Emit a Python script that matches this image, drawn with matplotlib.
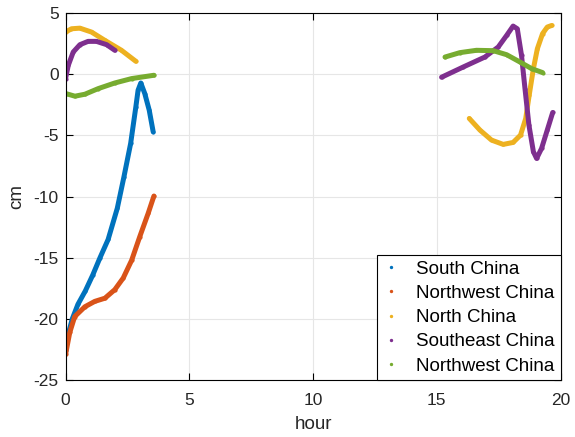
import matplotlib.pyplot as plt

plt.rcParams['font.family'] = ['Liberation Sans', 'DejaVu Sans']
plt.rcParams['axes.unicode_minus'] = False

# values (hour, cm)
south_x = [0.0, 0.1, 0.27, 0.5, 0.8, 1.1, 1.39, 1.72, 2.09, 2.36, 2.63, 2.84, 2.93, 3.04, 3.2, 3.38, 3.54]
south_y = [-22.5, -21.3, -20.0, -18.8, -17.7, -16.4, -15.0, -13.5, -10.95, -8.37, -5.65, -2.66, -1.3, -0.71, -1.57, -2.93, -4.7]

nw_x = [0.0, 0.17, 0.37, 0.78, 1.18, 1.59, 1.99, 2.33, 2.67, 3.0, 3.34, 3.57]
nw_y = [-22.9, -21.1, -19.8, -19.0, -18.56, -18.3, -17.6, -16.65, -15.2, -13.26, -11.35, -9.95]

north_x = [0.0, 0.24, 0.58, 1.05, 1.59, 2.26, 2.84,
           16.31, 16.74, 17.21, 17.68, 18.08, 18.38, 18.59, 18.73, 18.9, 19.06, 19.27, 19.46, 19.64]
north_y = [3.45, 3.72, 3.77, 3.45, 2.77, 1.96, 1.06,
           -3.61, -4.56, -5.38, -5.73, -5.57, -4.97, -3.61, -1.71, 0.46, 2.09, 3.32, 3.86, 3.99]

se_x = [0.0, 0.11, 0.31, 0.58, 0.91, 1.25, 1.66, 1.99,
        15.19, 16.07, 16.94, 17.48, 17.82, 18.08, 18.25, 18.42, 18.56, 18.72, 18.9, 19.03, 19.23, 19.46, 19.68]
se_y = [-0.35, 0.73, 1.82, 2.42, 2.69, 2.69, 2.42, 1.96,
        -0.24, 0.6, 1.41, 2.23, 3.18, 3.94, 3.72, 1.55, -1.17, -4.16, -6.33, -6.88, -6.06, -4.56, -3.12]

nw2_x = [0.0, 0.38, 0.78, 1.32, 1.99, 2.67, 3.57,
         15.33, 15.93, 16.6, 17.28, 17.82, 18.36, 18.83, 19.27]
nw2_y = [-1.57, -1.79, -1.63, -1.17, -0.71, -0.35, -0.08,
         1.41, 1.77, 1.96, 1.93, 1.6, 1.0, 0.46, 0.14]

names = ['South China', 'Northwest China', 'North China', 'Southeast China', 'Northwest China']
colors = ['#0072BD', '#D95319', '#EDB120', '#7E2F8E', '#77AC30']
series = [(south_x, south_y), (nw_x, nw_y), (north_x, north_y), (se_x, se_y), (nw2_x, nw2_y)]

fig = plt.figure(figsize=(5.75, 4.37), dpi=100)
ax = fig.add_axes([0.114, 0.130, 0.861, 0.840])

for (xs, ys), c, name in zip(series, colors, names):
    # the left and right pieces are separate runs in time
    segs = []
    cur_x, cur_y = [xs[0]], [ys[0]]
    for i in range(1, len(xs)):
        if xs[i] - xs[i - 1] > 5:
            segs.append((cur_x, cur_y))
            cur_x, cur_y = [], []
        cur_x.append(xs[i])
        cur_y.append(ys[i])
    segs.append((cur_x, cur_y))
    for sx, sy in segs:
        ax.plot(sx, sy, '-', color=c, lw=3.6, solid_capstyle='round', solid_joinstyle='round')
    ax.plot(xs, ys, '.', color=c, ms=4, label=name)

ax.set_xlim(0, 20)
ax.set_ylim(-25, 5)
ax.set_xticks([0, 5, 10, 15, 20])
ax.set_yticks([-25, -20, -15, -10, -5, 0, 5])
ax.grid(True, color='#e6e6e6', lw=0.8)
ax.set_axisbelow(True)
ax.tick_params(direction='in', top=True, right=True, labelsize=12.5, length=5, width=0.8,
               colors='black', labelcolor='#262626')
ax.tick_params(axis='x', pad=9)
ax.tick_params(axis='y', pad=5)
for s in ax.spines.values():
    s.set_linewidth(0.8)
ax.set_xlabel('hour', fontsize=13.5, color='#262626', labelpad=6)
ax.set_ylabel('cm', fontsize=13.5, color='#262626', labelpad=6)

leg = ax.legend(loc='lower right', fontsize=13.5, borderaxespad=0, handlelength=0.9,
                markerscale=0.7, fancybox=False, edgecolor='black', framealpha=1,
                labelspacing=0.38, handletextpad=0.9, borderpad=0.3)
leg.get_frame().set_linewidth(0.8)

fig.savefig('out.png', dpi=100)
